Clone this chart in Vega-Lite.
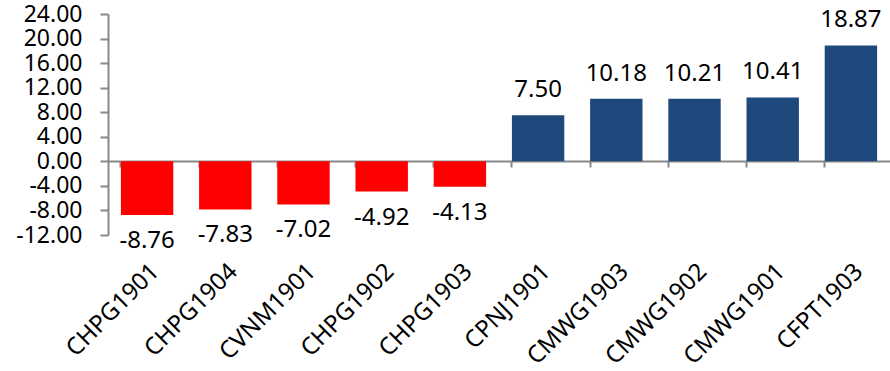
{
  "$schema": "https://vega.github.io/schema/vega-lite/v6.json",
  "autosize": "none",
  "width": 782,
  "height": 221,
  "padding": {"left": 108, "top": 14, "right": 0, "bottom": 136},
  "background": "white",
  "config": {"view": {"stroke": null}, "font": "Noto Sans"},
  "data": {"values": [
    {"contract": "CHPG1901", "value": -8.76},
    {"contract": "CHPG1904", "value": -7.83},
    {"contract": "CVNM1901", "value": -7.02},
    {"contract": "CHPG1902", "value": -4.92},
    {"contract": "CHPG1903", "value": -4.13},
    {"contract": "CPNJ1901", "value": 7.50},
    {"contract": "CMWG1903", "value": 10.18},
    {"contract": "CMWG1902", "value": 10.21},
    {"contract": "CMWG1901", "value": 10.41},
    {"contract": "CFPT1903", "value": 18.87}
  ]},
  "transform": [{"calculate": "replace(format(datum.value, '.2f'), '\u2212', '-')", "as": "label"}],
  "encoding": {
    "x": {"field": "contract", "type": "nominal", "sort": null,
      "scale": {"paddingInner": 0.33, "paddingOuter": 0.165},
      "axis": {"title": null, "labelAngle": -45, "offset": -74, "bandPosition": 0,
        "domainColor": "#888888", "domainWidth": 2, "tickColor": "#888888", "tickWidth": 2, "tickSize": 6,
        "labelPadding": 92, "labelFontSize": 24, "labelColor": "#000000", "labelFont": "Noto Sans"}},
    "y": {"field": "value", "type": "quantitative",
      "scale": {"domain": [-12, 24], "nice": false, "zero": false},
      "axis": {"title": null, "values": [-12, -8, -4, 0, 4, 8, 12, 16, 20, 24],
        "labelExpr": "replace(format(datum.value, '.2f'), '\u2212', '-')",
        "grid": false, "domainColor": "#888888", "domainWidth": 2, "tickColor": "#888888", "tickWidth": 2, "tickSize": 8,
        "labelPadding": 18, "labelFontSize": 23, "labelColor": "#000000", "labelFont": "Noto Sans", "labelOverlap": false}}
  },
  "layer": [
    {"mark": {"type": "bar"},
      "encoding": {"color": {"condition": {"test": "datum.value < 0", "value": "#FF0000"}, "value": "#1F497D"}}},
    {"transform": [{"filter": "datum.value >= 0"}],
      "mark": {"type": "text", "baseline": "alphabetic", "dy": -18, "fontSize": 24, "color": "#000000"},
      "encoding": {"text": {"field": "label", "type": "nominal"}}},
    {"transform": [{"filter": "datum.value < 0"}],
      "mark": {"type": "text", "baseline": "top", "dy": 14, "fontSize": 24, "color": "#000000"},
      "encoding": {"text": {"field": "label", "type": "nominal"}}}
  ]
}
